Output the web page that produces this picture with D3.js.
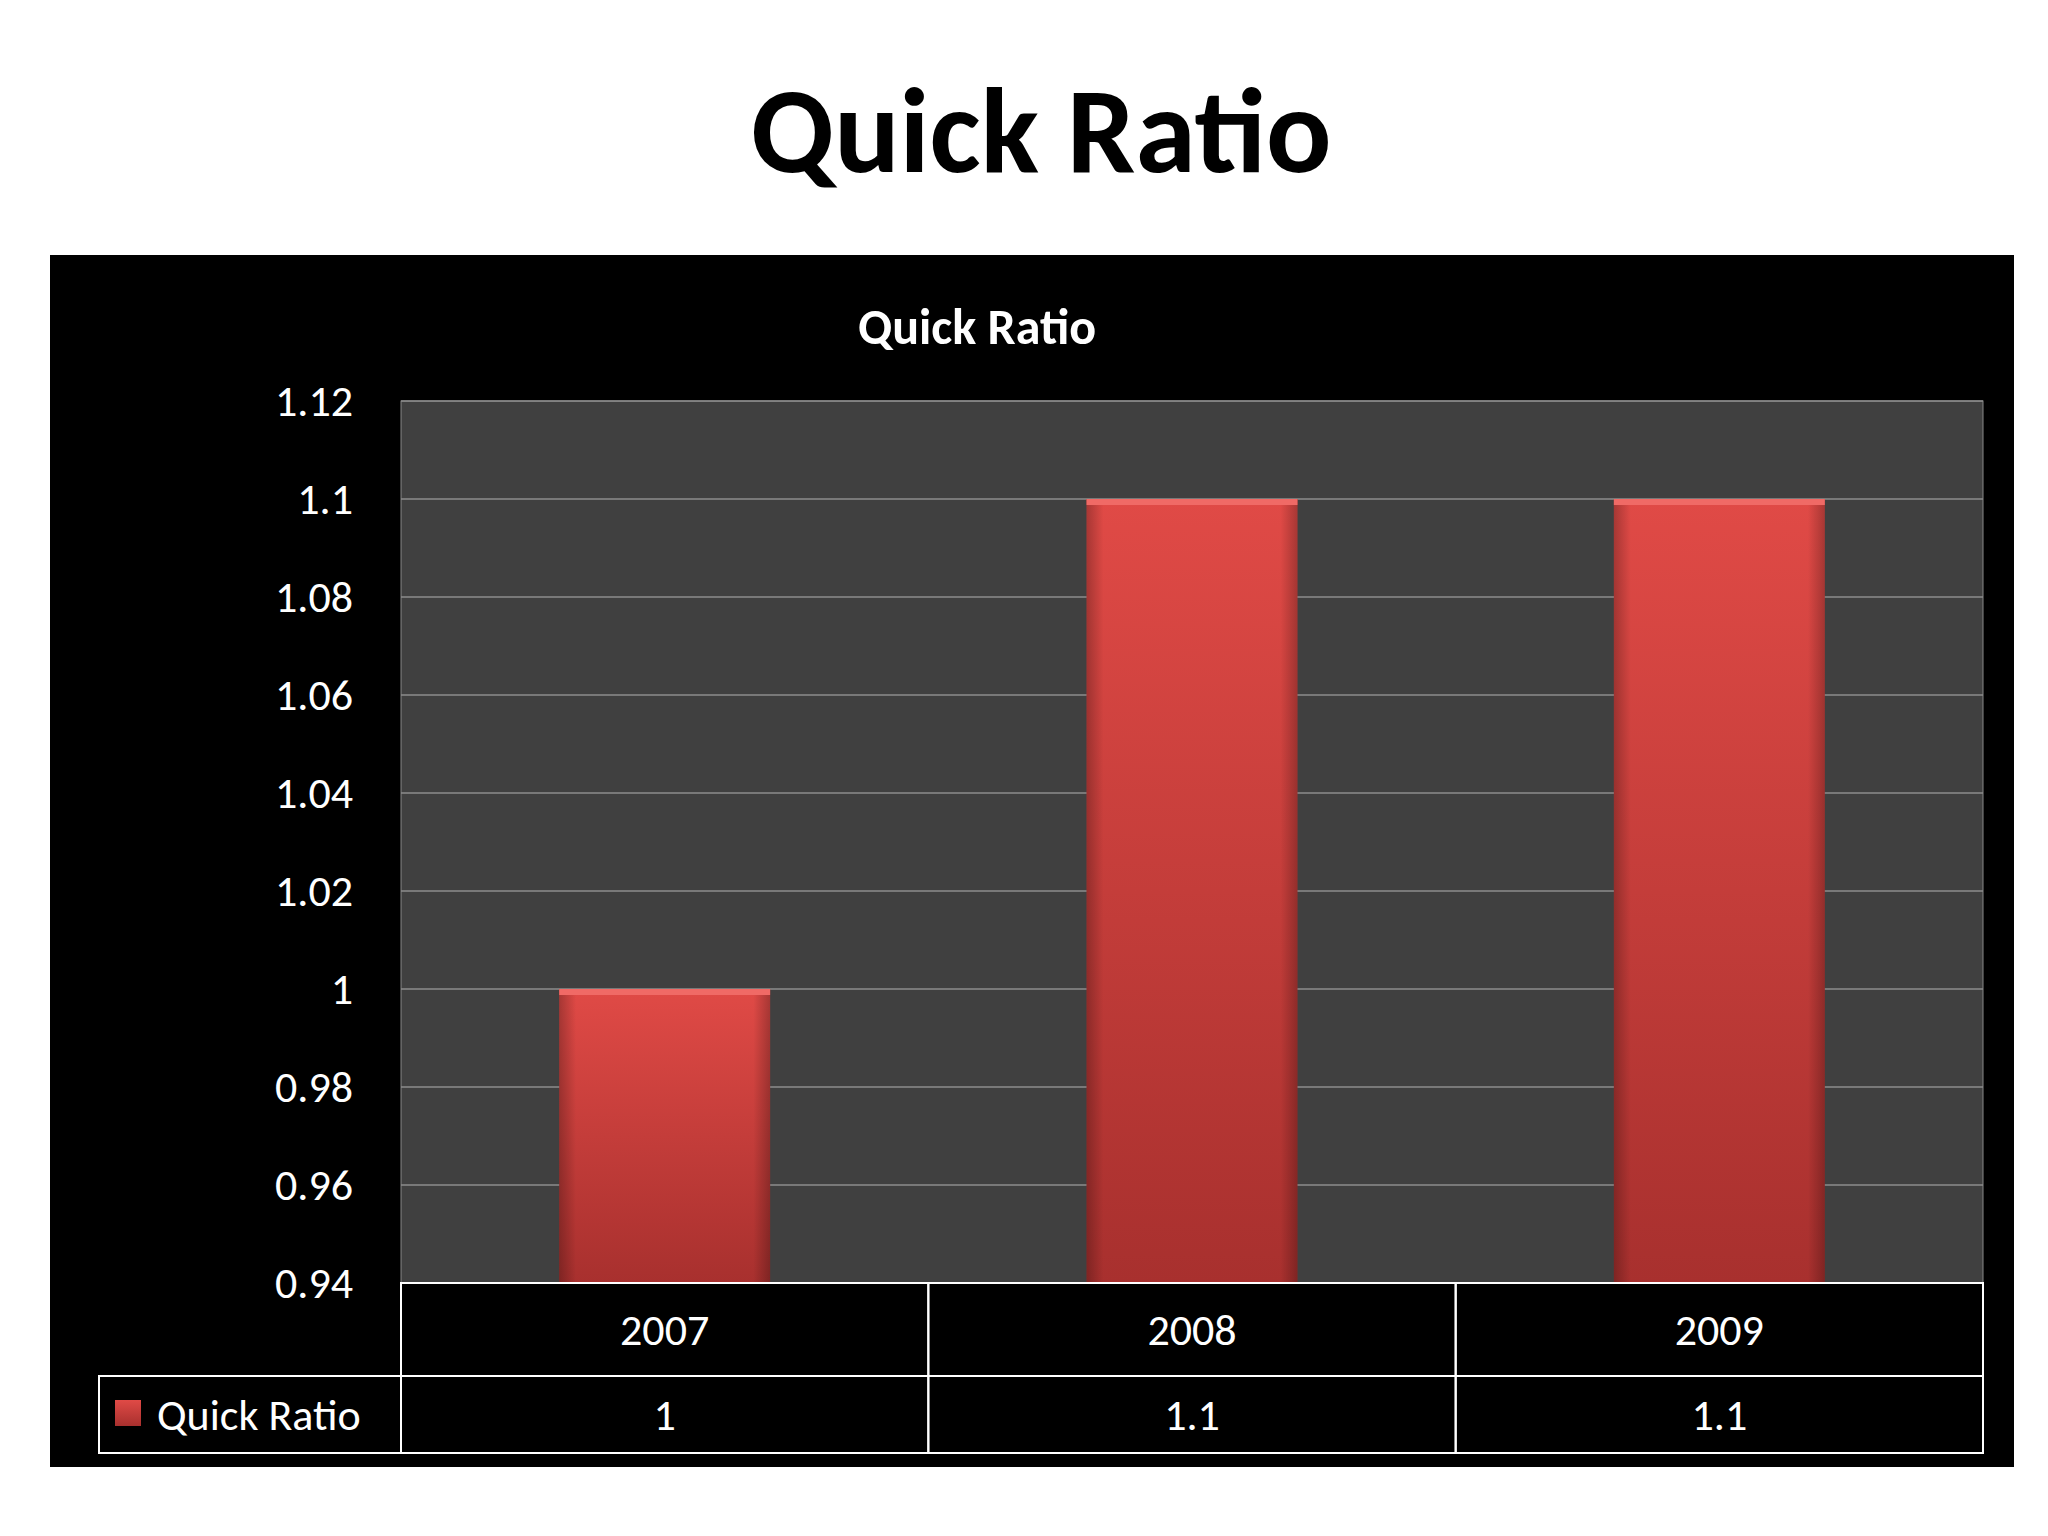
<!DOCTYPE html>
<html>
<head>
<meta charset="utf-8">
<script src="https://cdn.jsdelivr.net/npm/d3@7"></script>
<style>
body { margin: 0; background: #fff; }
text { font-family: Calibri, Carlito, "Open Sans", sans-serif; }
</style>
</head>
<body>
<svg id="chart" width="2048" height="1536"></svg>
<script>
const years = ["2007", "2008", "2009"];
const quickRatio = [1, 1.1, 1.1];
const valueLabels = ["1", "1.1", "1.1"];
const yTicks = [0.94, 0.96, 0.98, 1, 1.02, 1.04, 1.06, 1.08, 1.1, 1.12];
const seriesName = "Quick Ratio";

const svg = d3.select("#chart");

// slide title
svg.append("text")
  .attr("x", 1041).attr("y", 172)
  .attr("text-anchor", "middle")
  .attr("font-family", "'DejaVu Sans', Arial, sans-serif")
  .attr("font-weight", "bold")
  .attr("font-size", "122px")
  .attr("fill", "#000")
  .text("Quick Ratio");

// chart panel
svg.append("rect")
  .attr("x", 50).attr("y", 255).attr("width", 1964).attr("height", 1212)
  .attr("fill", "#000");

svg.append("text")
  .attr("x", 977).attr("y", 344)
  .attr("text-anchor", "middle")
  .attr("font-weight", "bold")
  .attr("font-size", "50px")
  .attr("fill", "#fff")
  .text(seriesName);

const pLeft = 401, pRight = 1983, pTop = 401, pBottom = 1283;

const x = d3.scaleBand().domain(years).range([pLeft, pRight]).paddingInner(0.6).paddingOuter(0.3);
const cell = d3.scaleBand().domain(years).range([pLeft, pRight]);
const y = d3.scaleLinear().domain([0.94, 1.12]).range([pBottom, pTop]);

svg.append("rect")
  .attr("x", pLeft).attr("y", pTop).attr("width", pRight - pLeft).attr("height", pBottom - pTop)
  .attr("fill", "#404040").attr("stroke", "#888").attr("stroke-width", 1);

svg.append("g").selectAll("line").data(yTicks).join("line")
  .attr("x1", pLeft).attr("x2", pRight)
  .attr("y1", d => y(d)).attr("y2", d => y(d))
  .attr("stroke", "#8c8c8c").attr("stroke-width", 1.5);

svg.append("g").selectAll("text").data(yTicks).join("text")
  .attr("x", 353).attr("y", d => y(d))
  .attr("dy", "0.35em")
  .attr("text-anchor", "end")
  .attr("font-size", "44px")
  .attr("fill", "#fff")
  .text(d => String(+d.toFixed(2)));

const defs = svg.append("defs");
const grad = defs.append("linearGradient").attr("id", "barGrad")
  .attr("x1", 0).attr("y1", 0).attr("x2", 0).attr("y2", 1);
grad.append("stop").attr("offset", "0%").attr("stop-color", "#e04a46");
grad.append("stop").attr("offset", "100%").attr("stop-color", "#a8302e");
const side = defs.append("linearGradient").attr("id", "sideGrad")
  .attr("x1", 0).attr("y1", 0).attr("x2", 1).attr("y2", 0);
side.append("stop").attr("offset", "0%").attr("stop-color", "#000").attr("stop-opacity", 0.25);
side.append("stop").attr("offset", "8%").attr("stop-color", "#000").attr("stop-opacity", 0);
side.append("stop").attr("offset", "92%").attr("stop-color", "#000").attr("stop-opacity", 0);
side.append("stop").attr("offset", "100%").attr("stop-color", "#000").attr("stop-opacity", 0.25);

const bars = svg.append("g").selectAll("g").data(years).join("g");
bars.append("rect")
  .attr("x", d => x(d)).attr("width", x.bandwidth())
  .attr("y", (d, i) => y(quickRatio[i]))
  .attr("height", (d, i) => pBottom - y(quickRatio[i]))
  .attr("fill", "url(#barGrad)");
bars.append("rect")
  .attr("x", d => x(d)).attr("width", x.bandwidth())
  .attr("y", (d, i) => y(quickRatio[i]))
  .attr("height", (d, i) => pBottom - y(quickRatio[i]))
  .attr("fill", "url(#sideGrad)");
bars.append("rect")
  .attr("x", d => x(d)).attr("width", x.bandwidth())
  .attr("y", (d, i) => y(quickRatio[i]))
  .attr("height", 6)
  .attr("fill", "#f06a66");

// data table
const r1 = 1376, r2 = 1453;
const tbl = svg.append("g").attr("stroke", "#fff").attr("stroke-width", 2).attr("fill", "none");
years.forEach(d => {
  tbl.append("rect").attr("x", cell(d)).attr("y", pBottom).attr("width", cell.bandwidth()).attr("height", r1 - pBottom);
  tbl.append("rect").attr("x", cell(d)).attr("y", r1).attr("width", cell.bandwidth()).attr("height", r2 - r1);
});
tbl.append("rect").attr("x", 99).attr("y", r1).attr("width", pLeft - 99).attr("height", r2 - r1);

svg.append("g").selectAll("text").data(years).join("text")
  .attr("x", d => cell(d) + cell.bandwidth() / 2).attr("y", (pBottom + r1) / 2)
  .attr("dy", "0.35em").attr("text-anchor", "middle")
  .attr("font-size", "44px").attr("fill", "#fff")
  .text(d => d);

svg.append("g").selectAll("text").data(years).join("text")
  .attr("x", d => cell(d) + cell.bandwidth() / 2).attr("y", (r1 + r2) / 2)
  .attr("dy", "0.35em").attr("text-anchor", "middle")
  .attr("font-size", "44px").attr("fill", "#fff")
  .text((d, i) => valueLabels[i]);

svg.append("rect").attr("x", 115).attr("y", 1400).attr("width", 26).attr("height", 26)
  .attr("fill", "url(#barGrad)");
svg.append("text")
  .attr("x", 157).attr("y", (r1 + r2) / 2).attr("dy", "0.35em")
  .attr("font-size", "44px").attr("fill", "#fff")
  .text(seriesName);
</script>
</body>
</html>
